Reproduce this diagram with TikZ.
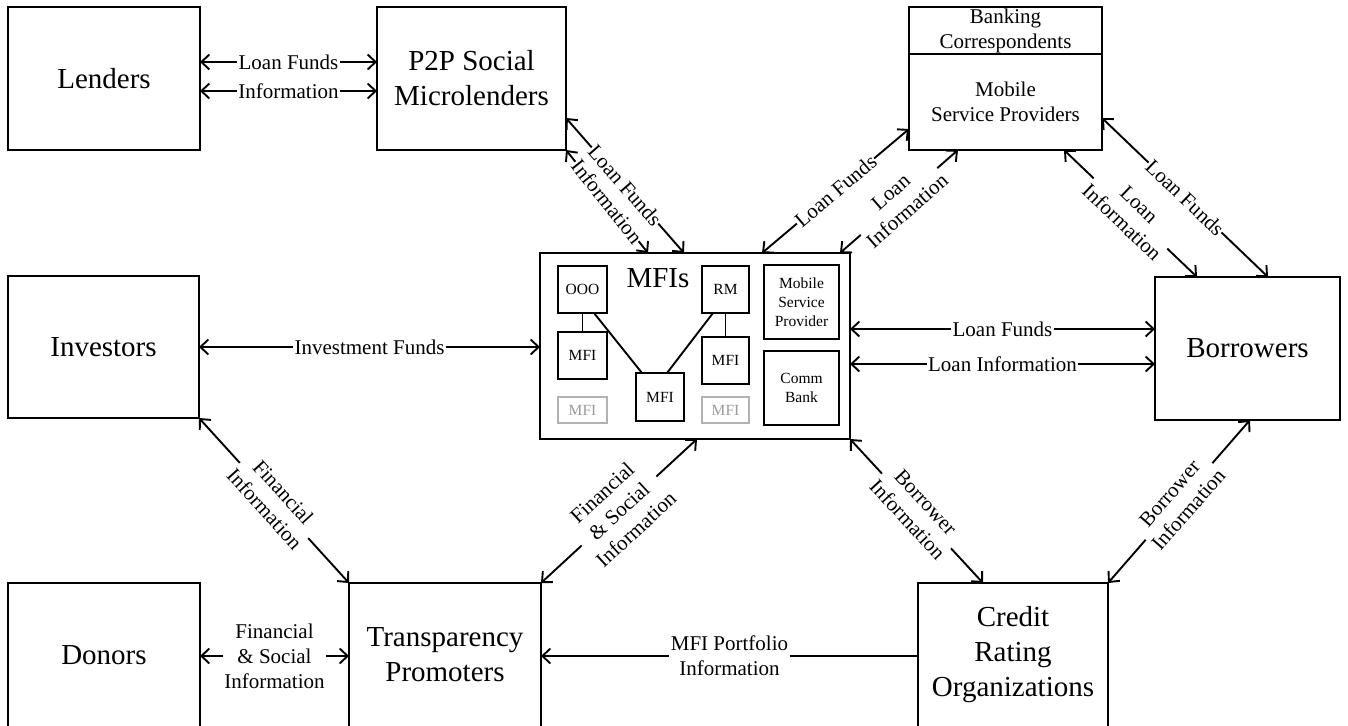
\documentclass[tikz,border=0pt]{standalone}
\usepackage{fontspec}
\setmainfont{Liberation Serif}
\usetikzlibrary{arrows.meta}
\newcommand\bigf{\fontsize{29}{35}\selectfont}
\newcommand\midf{\fontsize{21}{25}\selectfont}
\newcommand\smf{\fontsize{15.5}{19}\selectfont}
\tikzset{
  box/.style={draw, line width=1.9pt, inner sep=0pt, outer sep=0pt, align=center, font=\bigf},
  ibox/.style={draw, line width=1.9pt, inner sep=0pt, outer sep=0pt, align=center, font=\smf},
  gbox/.style={ibox, draw=black!30, text=black!40},
  tip/.tip={Straight Barb[length=8pt,width=15pt]},
  arr/.style={line width=1.9pt, tip-tip},
  arrl/.style={line width=1.9pt, -tip},
  lab/.style={fill=white, inner sep=1.5pt, align=center, font=\midf},
  slab/.style={lab, sloped, inner sep=0.5pt},
  lnk/.style={line width=1.9pt}
}
\begin{document}
\begin{tikzpicture}[x=1pt,y=-1pt]
\path[use as bounding box, clip] (0,0) rectangle (1348,725);
\fill[white] (0,0) rectangle (1348,725);
% main boxes
\node[box, minimum width=192pt, minimum height=143pt] (lend) at (104,78.5) {Lenders};
\node[box, minimum width=189pt, minimum height=143pt] (p2p) at (471.5,78.5) {P2P Social\\Microlenders};
\node[box, minimum width=193pt, minimum height=47pt, font=\midf] (bc) at (1005.5,30.5) {Banking\\Correspondents};
\node[box, minimum width=193pt, minimum height=96pt, font=\midf] (msp) at (1005.5,102) {Mobile\\Service Providers};
\node[box, minimum width=191pt, minimum height=142pt] (inv) at (103.5,347) {Investors};
\node[box, minimum width=310pt, minimum height=186pt] (mfi) at (695,346) {};
\node[box, minimum width=185pt, minimum height=143pt] (bor) at (1247.5,348.5) {Borrowers};
\node[box, minimum width=192pt, minimum height=144pt] (don) at (104,655) {Donors};
\node[box, minimum width=192pt, minimum height=144pt] (tra) at (445,655) {Transparency\\Promoters};
\node[box, minimum width=190pt, minimum height=144pt] (cro) at (1013,655) {Credit\\Rating\\Organizations};
% inside MFIs
\node[anchor=base, font=\bigf, inner sep=0pt] (mfit) at (658,287) {MFIs};
\node[ibox, minimum width=49pt, minimum height=47pt] (ooo) at (582.5,289.5) {OOO};
\node[ibox, minimum width=49pt, minimum height=47pt] (mfia) at (582.5,355.5) {MFI};
\node[gbox, minimum width=49pt, minimum height=26pt] (mfiga) at (582.5,410) {MFI};
\node[ibox, minimum width=48pt, minimum height=48pt] (mfib) at (660,397) {MFI};
\node[ibox, minimum width=47pt, minimum height=47pt] (rm) at (725.5,289.5) {RM};
\node[ibox, minimum width=47pt, minimum height=47pt] (mfic) at (725.5,360.5) {MFI};
\node[gbox, minimum width=47pt, minimum height=26pt] (mfigb) at (725.5,410) {MFI};
\node[ibox, minimum width=75pt, minimum height=74pt] (msp2) at (801.5,302) {Mobile\\Service\\Provider};
\node[ibox, minimum width=75pt, minimum height=74pt] (comm) at (801.5,388) {Comm\\Bank};
\draw[lnk] (ooo.south) -- (mfia.north);
\draw[lnk] (ooo.south -| 594,0) -- (mfib.north -| 642,0);
\draw[lnk] (rm.south -| 713,0) -- (mfib.north -| 667,0);
\draw[lnk] (rm.south) -- (mfic.north);
% connectors
\draw[arr] (lend.east |- 0,62) -- node[lab]{Loan Funds} (p2p.west |- 0,62);
\draw[arr] (lend.east |- 0,91) -- node[lab]{Information} (p2p.west |- 0,91);
\draw[arr] (p2p.east |- 0,118) -- node[slab]{Loan Funds} (mfi.north -| 684,0);
\draw[arr] (p2p.south east) -- node[slab]{Information} (mfi.north -| 648,0);
\draw[arr] (mfi.north -| 762,0) -- node[slab]{Loan Funds} (msp.west |- 0,129);
\draw[arr] (mfi.north -| 840,0) -- node[slab]{Loan\\Information} (msp.south -| 958,0);
\draw[arr] (msp.east |- 0,118) -- node[slab]{Loan Funds} (bor.north -| 1268,0);
\draw[arr] (msp.south -| 1064,0) -- node[slab]{Loan\\Information} (bor.north -| 1197,0);
\draw[arr] (mfi.east |- 0,329) -- node[lab]{Loan Funds} (bor.west |- 0,329);
\draw[arr] (mfi.east |- 0,364) -- node[lab]{Loan Information} (bor.west |- 0,364);
\draw[arr] (inv.east |- 0,347) -- node[lab]{Investment Funds} (mfi.west |- 0,347);
\draw[arr] (inv.south east) -- node[slab]{Financial\\Information} (tra.north west);
\draw[arr] (mfi.south -| 697,0) -- node[slab]{Financial\\\& Social\\Information} (tra.north east);
\draw[arr] (mfi.south east) -- node[slab]{Borrower\\Information} (cro.north -| 983,0);
\draw[arr] (bor.south -| 1250,0) -- node[slab]{Borrower\\Information} (cro.north east);
\draw[arr] (don.east |- 0,656) -- node[lab]{Financial\\\& Social\\Information} (tra.west |- 0,656);
\draw[arrl] (cro.west |- 0,656) -- node[lab]{MFI Portfolio\\Information} (tra.east |- 0,656);
\end{tikzpicture}
\end{document}
